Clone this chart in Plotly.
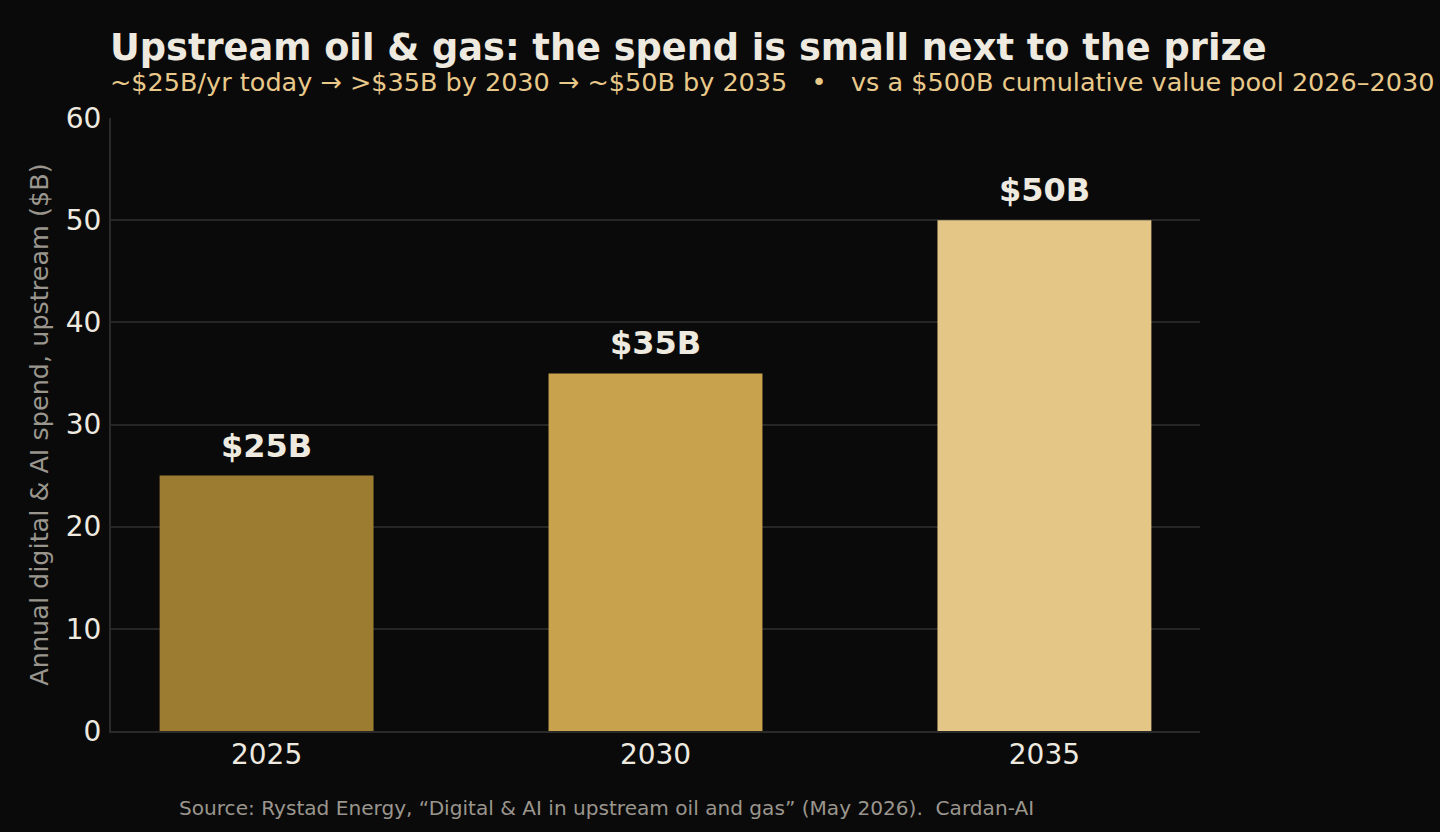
import plotly.graph_objects as go

years = ["2025", "2030", "2035"]
spend = [25, 35, 50]
labels = ["$25B", "$35B", "$50B"]
bar_colors = ["#9C7C30", "#C9A24E", "#E4C687"]

W, H = 1440, 832
L, R, T, B = 111, 240, 118, 101

fig = go.Figure()
fig.add_trace(go.Bar(
    x=list(range(len(years))), y=spend,
    marker=dict(color=bar_colors, line=dict(width=0)),
    width=0.55,
    hoverinfo="skip",
))

annotations = []
for i, (v, lab) in enumerate(zip(spend, labels)):
    annotations.append(dict(
        x=i, y=v, xref="x", yref="y", text=f"<b>{lab}</b>", showarrow=False,
        xanchor="center", yanchor="middle", yshift=30,
        font=dict(family="DejaVu Sans", size=32, color="#EEEAE0"),
    ))

annotations += [
    dict(text="<b>Upstream oil & gas: the spend is small next to the prize</b>",
         xref="paper", yref="paper", x=0, y=1 + (T - 48) / (H - T - B),
         xanchor="left", yanchor="middle", showarrow=False, xshift=-3,
         font=dict(size=36.7, color="#EEEAE0", family="DejaVu Sans")),
    dict(text="~$25B/yr today → >$35B by 2030 → ~$50B by 2035   •   vs a $500B cumulative value pool 2026–2030",
         xref="paper", yref="paper", x=0, y=1 + (T - 82) / (H - T - B),
         xanchor="left", yanchor="middle", showarrow=False, xshift=-3,
         font=dict(size=25.5, color="#E8C98A", family="DejaVu Sans")),
    dict(text="Source: Rystad Energy, “Digital & AI in upstream oil and gas” (May 2026).  Cardan-AI",
         xref="paper", yref="paper", x=(180 - L) / (W - L - R), y=-(808 - (H - B)) / (H - T - B),
         xanchor="left", yanchor="middle", showarrow=False, xshift=-3,
         font=dict(size=20.1, color="#9A968E", family="DejaVu Sans")),
]

fig.update_layout(
    width=W, height=H,
    paper_bgcolor="#0A0A0A", plot_bgcolor="#0A0A0A",
    margin=dict(l=L, r=R, t=T, b=B),
    font=dict(family="DejaVu Sans", color="#EEEAE0"),
    showlegend=False,
    xaxis=dict(
        tickmode="array", tickvals=list(range(len(years))), ticktext=years,
        range=[-0.4, 2.4], showgrid=False, zeroline=False,
        showline=True, linecolor="#2A2A28", linewidth=2,
        tickfont=dict(size=28, color="#EEEAE0"), ticks="", ticklen=0,
        ticklabelstandoff=-3,
    ),
    yaxis=dict(
        range=[0, 60], dtick=10, showgrid=True, gridcolor="#262624", gridwidth=1.5,
        zeroline=False, showline=True, linecolor="#2A2A28", linewidth=2,
        tickfont=dict(size=28, color="#EEEAE0"), ticks="",
        ticklabelstandoff=2,
        title=dict(text="Annual digital & AI spend, upstream ($B)",
                   font=dict(size=25.5, color="#9A968E"), standoff=10),
    ),
    annotations=annotations,
)

fig.write_html("out.html")
